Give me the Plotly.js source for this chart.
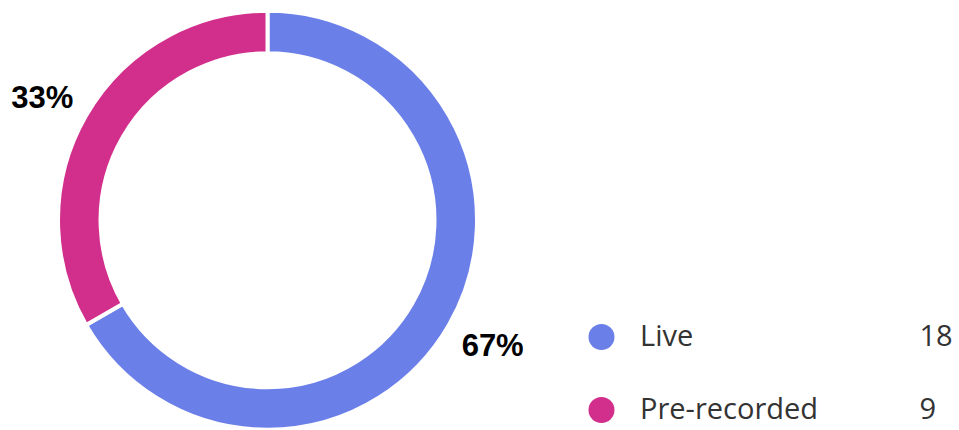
<!DOCTYPE html>
<html>
<head>
<meta charset="utf-8">
<script src="https://cdn.plot.ly/plotly-3.0.1.min.js"></script>
<style>html,body{margin:0;padding:0;background:#fff;}#chart{width:959px;height:430px;}</style>
</head>
<body>
<div id="chart"></div>
<script>
const categories = ["Live", "Pre-recorded"];
const values = [18, 9];
const colors = ["#6B7FE8", "#D22E8C"];

// layout constants (pixels)
const W = 959, H = 430;
const CX = 267.5, CY = 224.5, LABEL_RX = 260, LABEL_RY = 248;

const total = values.reduce((a, b) => a + b, 0);
const percents = values.map(v => Math.round(100 * v / total) + "%");
// mid-angle of each slice, clockwise from 12 o'clock
let acc = 0;
const midAngles = values.map(v => { const m = (acc + v / 2) / total * 2 * Math.PI; acc += v; return m; });

const rows = categories.map((c, i) => -i);
const textRows = rows.map(r => r - 0.03);

const pie = {
  type: "pie",
  labels: categories,
  values: values,
  sort: false,
  direction: "clockwise",
  rotation: 0,
  hole: 0.797,
  marker: {colors: colors, line: {color: "#ffffff", width: 4}},
  textinfo: "none",
  domain: {x: [0.0605, 0.4974], y: [0.0, 0.9755]},
  showlegend: false,
  hoverinfo: "none"
};

const pctLabels = {
  type: "scatter", mode: "text",
  x: midAngles.map(a => Math.sin(a) * LABEL_RX),
  y: midAngles.map(a => Math.cos(a) * LABEL_RY),
  text: percents, textposition: "middle center",
  textfont: {family: "Liberation Sans, Arial, sans-serif", size: 31, color: "#000000", weight: 700},
  xaxis: "x2", yaxis: "y2", showlegend: false, hoverinfo: "none"
};

const legendMarkers = {
  type: "scatter", mode: "markers",
  x: categories.map(() => 0.068), y: rows,
  marker: {size: 26, color: colors},
  xaxis: "x", yaxis: "y", showlegend: false, hoverinfo: "none"
};
const legendLabels = {
  type: "scatter", mode: "text",
  x: categories.map(() => 0.1684), y: textRows,
  text: categories, textposition: "middle right",
  textfont: {family: "Open Sans, Noto Sans, sans-serif", size: 29, color: "#333333"},
  xaxis: "x", yaxis: "y", showlegend: false, hoverinfo: "none"
};
const legendValues = {
  type: "scatter", mode: "text",
  x: categories.map(() => 0.897), y: textRows,
  text: values.map(String), textposition: "middle right",
  textfont: {family: "Open Sans, Noto Sans, sans-serif", size: 29, color: "#333333"},
  xaxis: "x", yaxis: "y", showlegend: false, hoverinfo: "none"
};

const layout = {
  width: W, height: H,
  margin: {l: 0, r: 0, t: 0, b: 0},
  paper_bgcolor: "#ffffff", plot_bgcolor: "rgba(0,0,0,0)",
  xaxis: {domain: [0.6, 1], range: [0, 1], visible: false, fixedrange: true},
  yaxis: {domain: [0, 1], range: [-1.274, 4.616], visible: false, fixedrange: true},
  xaxis2: {domain: [0, 1], range: [-CX, W - CX], visible: false, fixedrange: true, anchor: "y2"},
  yaxis2: {domain: [0, 1], range: [-(H - CY), CY], visible: false, fixedrange: true, anchor: "x2"},
  showlegend: false
};

Plotly.newPlot("chart", [pie, pctLabels, legendMarkers, legendLabels, legendValues], layout, {displayModeBar: false, staticPlot: true});
</script>
</body>
</html>
